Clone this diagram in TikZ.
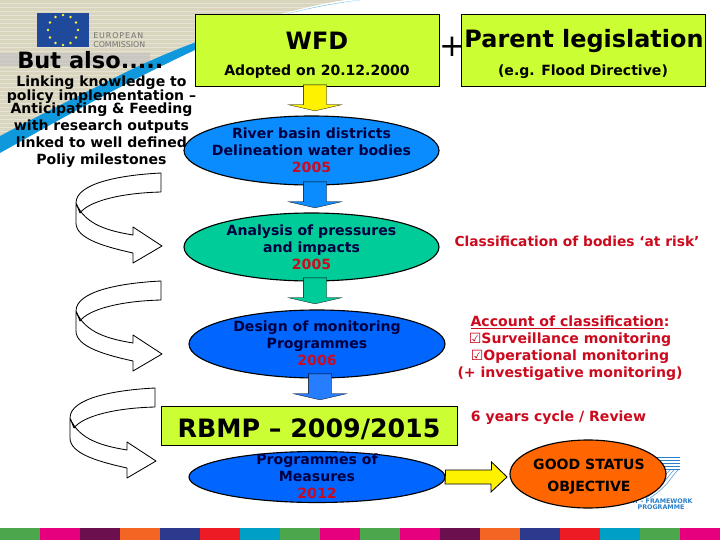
\documentclass[tikz,border=0pt]{standalone}
\usepackage{fontspec}
\setmainfont{DejaVu Sans}
\usetikzlibrary{shapes.geometric,shapes.arrows}
\definecolor{mLime}{HTML}{CCFF33}
\definecolor{mSkyBlue}{HTML}{0A8CFF}
\definecolor{mDeepBlue}{HTML}{0066FF}
\definecolor{mSea}{HTML}{00CC99}
\definecolor{mOrange}{HTML}{FF6600}
\definecolor{mRed}{HTML}{CC0A1E}
\definecolor{mNavy}{HTML}{000040}
\definecolor{mBeige}{HTML}{DAD5BF}
\definecolor{mSwoosh}{HTML}{1098DC}
\definecolor{mFlag}{HTML}{1F4A9C}
\definecolor{mLogoBlue}{HTML}{2A7FC8}
\newcommand{\bigtxt}{\fontsize{17}{20}\selectfont\bfseries}
\newcommand{\midtxt}{\fontsize{10}{12}\selectfont\bfseries}
\tikzset{
    legalbox/.style={draw=black, fill=mLime, inner sep=0pt, minimum width=61mm, minimum height=18mm},
    stageoval/.style={ellipse, draw=black, thick, inner sep=0pt},
    stagetext/.style={align=center, inner sep=0pt, text=mNavy, font=\midtxt},
    plaintext/.style={align=center, inner sep=0pt, font=\midtxt},
    blockarrow/.style={single arrow, draw=black, very thin, inner sep=2.875mm, single arrow head extend=3.75mm,
        single arrow tip angle=154, minimum height=5.75mm, rotate=-90, anchor=tip},
    sidetext/.style={align=center, inner sep=0pt, text=mRed, font=\midtxt},
    curvearrow/.pic={
        \draw[semithick, fill=white, line join=round] (0,0) .. controls (-40,2) and (-85,10) .. (-85,30) -- (-85,50)
            .. controls (-85,66) and (-55,74) .. (-28,80) -- (-28,90) -- (1,73) -- (-28,54) -- (-28,62)
            .. controls (-52,58) and (-76,52) .. (-85,30) -- (-81,40) .. controls (-72,28) and (-40,20) .. (0,19) -- cycle;
    }
}
\begin{document}
\begin{tikzpicture}[x=0.25mm,y=-0.25mm]
    \useasboundingbox (0,0) rectangle (720,540);
    % backdrop
    \fill[mBeige] (0,0) -- (345,0) .. controls (280,10) and (190,40) .. (120,75) .. controls (70,100) and (30,120) .. (0,136) -- cycle;
    \foreach \y in {3,7,...,131}
        \draw[white, opacity=.35, line width=.4pt] (0,\y) -- ({345-2.55*\y},\y);
    \fill[black!25, opacity=.6] (0,53) rectangle (150,66);
    \fill[mSwoosh] (0,136) .. controls (30,120) and (70,100) .. (120,75) .. controls (190,40) and (280,10) .. (360,0)
        .. controls (290,8) and (230,30) .. (195,50) .. controls (120,85) and (50,125) .. (0,153) -- cycle;
    % colour strip
    \foreach \x/\c in {0/4CA64C,40/E6007E,80/6B0F4F,120/F26522,160/2B3A8C,200/ED1C24,240/00A0C6,280/4CA64C,320/E6007E,
        360/4CA64C,400/E6007E,440/6B0F4F,480/F26522,520/2B3A8C,560/ED1C24,600/00A0C6,640/4CA64C,680/E6007E} {
        \definecolor{stripcol}{HTML}{\c}
        \fill[stripcol] (\x,528) rectangle ++(40,12);
    }
    % commission logo
    \fill[mFlag] (37,13) rectangle (89,47);
    \foreach \a in {0,30,...,330}
        \fill[yellow!80!white] (63,30) ++(\a:15) circle (0.35mm);
    \node[anchor=west, inner sep=0pt, text=black!55, font=\fontsize{5.6}{6}\selectfont] (eutop) at (93,36) {\addfontfeature{LetterSpace=12}EUROPEAN};
    \node[anchor=west, inner sep=0pt, text=black!55, font=\fontsize{5.6}{6}\selectfont] (eubot) at (93,45) {COMMISSION};
    % framework logo, partly behind the orange oval
    \foreach \y in {457,460,...,469}
        \draw[mLogoBlue, line width=.5pt] (645,\y) -- (680,\y);
    \foreach \d in {0,4,8}
        \draw[mLogoBlue!70, line width=.5pt] ({678-\d},470) .. controls ({670-\d},478) and ({668-\d},486) .. ({650-\d},498);
    \node[inner sep=0pt, text=mLogoBlue, font=\fontsize{4.5}{5}\selectfont\bfseries] (fpone) at (659,501) {ERT - FRAMEWORK};
    \node[inner sep=0pt, text=mLogoBlue, font=\fontsize{4.5}{5}\selectfont\bfseries] (fptwo) at (661,507) {PROGRAMME};

    \node[anchor=west, inner sep=0pt, font=\fontsize{16}{18}\selectfont\bfseries] (butalso) at (17,60) {But also.....};
    \node[plaintext, anchor=north] (linking) at (101.5,76) {Linking knowledge to\\[-2.6pt]policy implementation –\\[-2.6pt]Anticipating \& Feeding\\with research outputs\\linked to well defined\\Poliy milestones};

    % top boxes
    \node[legalbox] (wfd) at (317,50) {};
    \node[plaintext, font=\bigtxt] (wfdtitle) at (317,41) {WFD};
    \node[plaintext] (wfdsub) at (317,72) {Adopted on 20.12.2000};
    \node[legalbox] (parent) at (583.5,50) {};
    \node[plaintext, font=\bigtxt] (parenttitle) at (584,41) {Parent legislation};
    \node[plaintext] (parentsub) at (583,72) {(e.g. Flood Directive)};
    \node[inner sep=0pt, font=\fontsize{22}{24}\selectfont] (plus) at (452.5,47) {+};

    % stages
    \node[stageoval, fill=mSkyBlue, minimum width=63.75mm, minimum height=17.25mm] (basin) at (311.5,150.5) {};
    \node[stagetext] (basintxt) at (311.5,150.5) {River basin districts\\Delineation water bodies\\\textcolor{mRed}{2005}};
    \node[stageoval, fill=mSea, minimum width=63.75mm, minimum height=17mm] (pressure) at (311.5,247) {};
    \node[stagetext] (pressuretxt) at (311.5,247) {Analysis of pressures\\and impacts\\\textcolor{mRed}{2005}};
    \node[stageoval, fill=mDeepBlue, minimum width=64mm, minimum height=17mm] (design) at (317,344) {};
    \node[stagetext] (designtxt) at (317,343) {Design of monitoring\\Programmes\\\textcolor{mRed}{2006}};
    \node[legalbox, minimum width=74mm, minimum height=9.75mm] (rbmp) at (309,425.5) {};
    \node[plaintext, font=\fontsize{18}{20}\selectfont\bfseries] (rbmptxt) at (309,429) {RBMP – 2009/2015};
    \node[stageoval, fill=mDeepBlue, minimum width=64mm, minimum height=12.75mm] (measures) at (317,477) {};
    \node[stagetext] (measurestxt) at (317,476.5) {Programmes of\\Measures\\\textcolor{mRed}{2012}};
    \node[stageoval, fill=mOrange, minimum width=39mm, minimum height=17mm] (status) at (588,474) {};
    \node[plaintext] (good) at (589,464) {GOOD STATUS};
    \node[plaintext] (objective) at (589,488) {OBJECTIVE};

    % block arrows
    \node[blockarrow, fill=yellow] (stepa) at (315,111) {};
    \node[blockarrow, fill=mSkyBlue] (stepb) at (315,208) {};
    \node[blockarrow, fill=mSea] (stepc) at (315,304) {};
    \node[blockarrow, fill=mDeepBlue!85!white] (stepd) at (320,400) {};
    \fill[yellow, draw=black, semithick] (measures.east) ++(0,-7) -- ++(46,0) -- ++(0,-8) -- (507,477) -- (491,492) -- (491,484) -- (445,484) -- cycle;

    % side notes
    \node[sidetext, font=\fontsize{9.8}{12}\selectfont\bfseries] (risk) at (577,241) {Classification of bodies ‘at risk’};
    \node[sidetext] (account) at (570,348) {\underline{Account of classification}:\\☑Surveillance monitoring\\☑Operational monitoring\\(+ investigative monitoring)};
    \node[sidetext] (review) at (558.5,417.5) {6 years cycle / Review};

    % loops
    \pic at (161,173) {curvearrow};
    \pic at (161,281) {curvearrow};
    \pic at (155,388) {curvearrow};
\end{tikzpicture}
\end{document}
